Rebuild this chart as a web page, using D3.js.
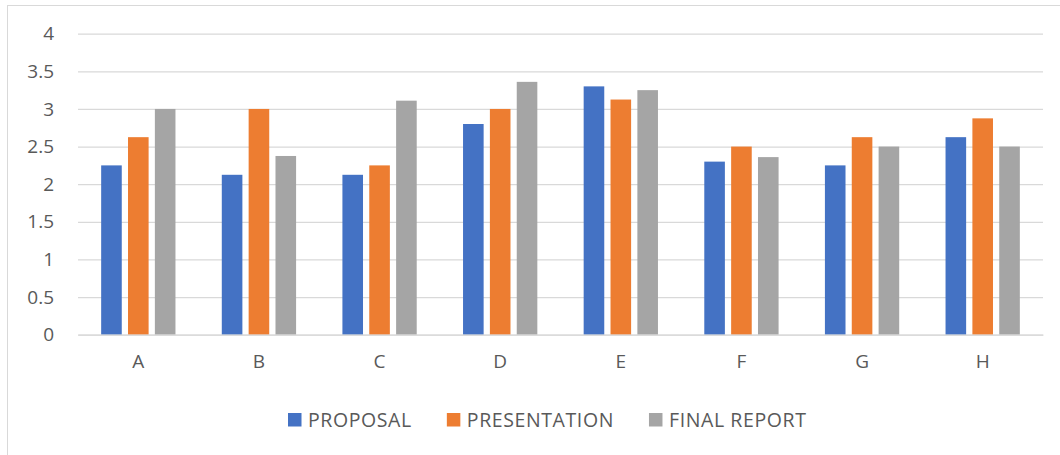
<!DOCTYPE html>
<html>
<head>
<meta charset="utf-8">
<script src="https://cdn.jsdelivr.net/npm/d3@7"></script>
<style>
  html, body { margin: 0; padding: 0; background: #fff; }
  svg { display: block; }
  text { font-family: "Open Sans", "Noto Sans", sans-serif; fill: #595959; }
</style>
</head>
<body>
<svg id="chart" width="1060" height="455"></svg>
<script>
// Scores per group, one array per assessment
const categories = ["A", "B", "C", "D", "E", "F", "G", "H"];
const seriesNames = ["PROPOSAL", "PRESENTATION", "FINAL REPORT"];
const proposal     = [2.25, 2.125, 2.125, 2.8, 3.3, 2.3, 2.25, 2.625];
const presentation = [2.625, 3.0, 2.25, 3.0, 3.125, 2.5, 2.625, 2.875];
const finalReport  = [3.0, 2.375, 3.11, 3.36, 3.25, 2.36, 2.5, 2.5];
const yTicks = [0, 0.5, 1, 1.5, 2, 2.5, 3, 3.5, 4];
const colors = ["#4472C4", "#ED7D31", "#A5A5A5"];

const seriesValues = [proposal, presentation, finalReport];

const svg = d3.select("#chart");

// chart frame
svg.append("rect")
  .attr("x", 7.5).attr("y", 5.5)
  .attr("width", 1070).attr("height", 470)
  .attr("fill", "none").attr("stroke", "#d9d9d9").attr("stroke-width", 1);

const plot = { left: 78, right: 1043, top: 33.7, bottom: 334.7 };

const y = d3.scaleLinear().domain([0, 4]).range([plot.bottom, plot.top]);
const x0 = d3.scaleBand().domain(categories).range([plot.left, plot.right]).padding(0);
const groupW = 74.3;
const x1 = d3.scaleBand().domain(d3.range(seriesNames.length))
  .range([0, groupW]).paddingInner(0.233).paddingOuter(0);

// gridlines
const yAxis = d3.axisLeft(y).tickValues(yTicks)
  .tickSize(-(plot.right - plot.left)).tickPadding(24)
  .tickFormat(d3.format("~g"));
const gy = svg.append("g").attr("transform", `translate(${plot.left},0)`).call(yAxis);
gy.select(".domain").remove();
gy.selectAll(".tick line").attr("stroke", "#d9d9d9").attr("stroke-width", 1.2);
gy.selectAll(".tick text").attr("font-size", 19).attr("fill", "#595959")
  .attr("font-family", "'Open Sans', sans-serif");

// bars
const groups = svg.append("g").selectAll("g")
  .data(categories)
  .join("g")
  .attr("transform", d => `translate(${x0(d) + x0.bandwidth() / 2 - groupW / 2},0)`);

groups.selectAll("rect")
  .data((d, i) => seriesValues.map((vals, s) => ({ s, v: vals[i] })))
  .join("rect")
  .attr("x", d => x1(d.s))
  .attr("width", x1.bandwidth())
  .attr("y", d => y(d.v))
  .attr("height", d => y(0) - y(d.v))
  .attr("fill", d => colors[d.s]);

// category axis
const xAxis = d3.axisBottom(x0).tickSize(0).tickPadding(20);
const gx = svg.append("g").attr("transform", `translate(0,${plot.bottom})`).call(xAxis);
gx.select(".domain").attr("stroke", "#d9d9d9").attr("stroke-width", 1.2);
gx.selectAll(".tick text").attr("font-size", 19).attr("fill", "#595959")
  .attr("font-family", "'Open Sans', sans-serif");

// legend
const legend = svg.append("g").attr("transform", "translate(288,420)");
let lx = 0;
seriesNames.forEach((name, i) => {
  const item = legend.append("g").attr("transform", `translate(${lx},0)`);
  item.append("rect").attr("x", 0).attr("y", -7).attr("width", 13.5).attr("height", 13.5)
    .attr("fill", colors[i]);
  const t = item.append("text").attr("x", 20).attr("y", 0).attr("dy", "0.35em")
    .attr("font-size", 19.5).attr("letter-spacing", 0.6).text(name);
  lx += 20 + t.node().getComputedTextLength() + 35;
});
</script>
</body>
</html>
